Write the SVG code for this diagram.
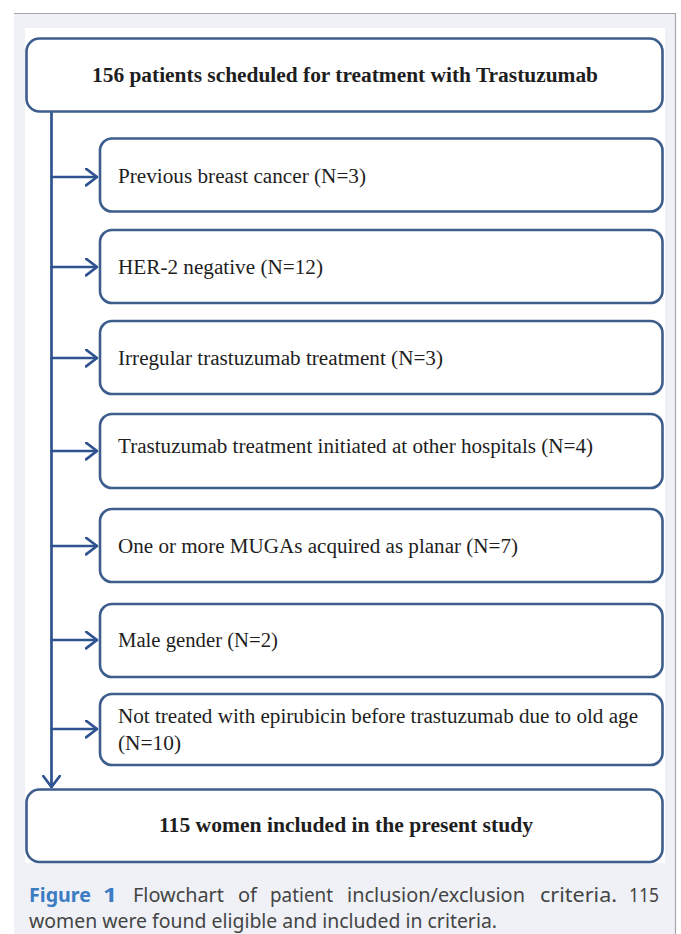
<svg xmlns="http://www.w3.org/2000/svg" width="681" height="934" viewBox="0 0 681 934">
<defs>
<style>
.box{fill:#ffffff;stroke:#3d5d8c;stroke-width:2.6}
.t{font-family:"Liberation Serif",serif;font-size:20px;fill:#1e1e1e}
.b{font-weight:bold}
.conn{fill:none;stroke:#2f5390;stroke-width:2.7;stroke-linecap:round;stroke-linejoin:round}
.cap{font-family:"Noto Sans","Liberation Sans",sans-serif;font-size:20px;fill:#444444}
.fig{fill:#3b7cc4;font-weight:bold}
</style>
<marker id="ah" viewBox="0 0 13 19" refX="12" refY="9.5" markerWidth="13" markerHeight="19" markerUnits="userSpaceOnUse" orient="auto">
<path d="M1,1.2 L12,9.5 L1,17.8" fill="none" stroke="#2f5390" stroke-width="2.7" stroke-linecap="round" stroke-linejoin="round"/>
</marker>
</defs>
<rect x="0" y="0" width="681" height="934" fill="#ffffff"/>
<rect x="14" y="13" width="661.5" height="925" fill="#eff1f6"/>
<path d="M14,13.5 H675.5 V934" fill="none" stroke="#a6a6a6" stroke-width="1.2"/>
<rect x="25" y="28" width="640" height="835" fill="#ffffff"/>

<g id="connectors">
<path class="conn" d="M51.5,111 V787" marker-end="url(#ah)"/>
<path class="conn" d="M51.5,177 H97" marker-end="url(#ah)"/>
<path class="conn" d="M51.5,267 H97" marker-end="url(#ah)"/>
<path class="conn" d="M51.5,358 H97" marker-end="url(#ah)"/>
<path class="conn" d="M51.5,451 H97" marker-end="url(#ah)"/>
<path class="conn" d="M51.5,546 H97" marker-end="url(#ah)"/>
<path class="conn" d="M51.5,640 H97" marker-end="url(#ah)"/>
<path class="conn" d="M51.5,729 H97" marker-end="url(#ah)"/>
</g>

<g id="start">
<rect class="box" x="26.5" y="38.5" width="636" height="73" rx="13"/>
<text class="t b" x="92" y="82" textLength="506" lengthAdjust="spacingAndGlyphs">156 patients scheduled for treatment with Trastuzumab</text>
</g>
<g id="excl1">
<rect class="box" x="100" y="138.5" width="562.5" height="73" rx="12"/>
<text class="t" x="118" y="183" textLength="248" lengthAdjust="spacingAndGlyphs">Previous breast cancer (N=3)</text>
</g>
<g id="excl2">
<rect class="box" x="100" y="230" width="562.5" height="73" rx="12"/>
<text class="t" x="118" y="274" textLength="205" lengthAdjust="spacingAndGlyphs">HER-2 negative (N=12)</text>
</g>
<g id="excl3">
<rect class="box" x="100" y="321" width="562.5" height="73" rx="12"/>
<text class="t" x="118" y="365" textLength="325" lengthAdjust="spacingAndGlyphs">Irregular trastuzumab treatment (N=3)</text>
</g>
<g id="excl4">
<rect class="box" x="100" y="414" width="562.5" height="74" rx="12"/>
<text class="t" x="118" y="453" textLength="475" lengthAdjust="spacingAndGlyphs">Trastuzumab treatment initiated at other hospitals (N=4)</text>
</g>
<g id="excl5">
<rect class="box" x="100" y="509" width="562.5" height="73" rx="12"/>
<text class="t" x="118" y="553" textLength="400" lengthAdjust="spacingAndGlyphs">One or more MUGAs acquired as planar (N=7)</text>
</g>
<g id="excl6">
<rect class="box" x="100" y="604" width="562.5" height="73" rx="12"/>
<text class="t" x="118" y="647" textLength="160" lengthAdjust="spacingAndGlyphs">Male gender (N=2)</text>
</g>
<g id="excl7">
<rect class="box" x="100" y="694" width="562.5" height="71" rx="12"/>
<text class="t" x="118" y="723" textLength="520" lengthAdjust="spacingAndGlyphs">Not treated with epirubicin before trastuzumab due to old age</text>
<text class="t" x="118" y="750" textLength="63" lengthAdjust="spacingAndGlyphs">(N=10)</text>
</g>
<g id="end">
<rect class="box" x="26.5" y="789.5" width="636" height="72.5" rx="13"/>
<text class="t b" x="159" y="832" textLength="374" lengthAdjust="spacingAndGlyphs">115 women included in the present study</text>
</g>

<g id="caption">
<text class="cap fig" x="29" y="902" textLength="62" lengthAdjust="spacingAndGlyphs">Figure</text>
<text class="cap fig" x="103" y="902" textLength="14" lengthAdjust="spacingAndGlyphs">1</text>
<text class="cap" x="133" y="902" textLength="91" lengthAdjust="spacingAndGlyphs">Flowchart</text>
<text class="cap" x="238" y="902" textLength="19" lengthAdjust="spacingAndGlyphs">of</text>
<text class="cap" x="270" y="902" textLength="63" lengthAdjust="spacingAndGlyphs">patient</text>
<text class="cap" x="347" y="902" textLength="178" lengthAdjust="spacingAndGlyphs">inclusion/exclusion</text>
<text class="cap" x="540" y="902" textLength="77" lengthAdjust="spacingAndGlyphs">criteria.</text>
<text class="cap" x="629" y="902" textLength="30" lengthAdjust="spacingAndGlyphs">115</text>
<text class="cap" x="29" y="928" textLength="468" lengthAdjust="spacingAndGlyphs">women were found eligible and included in criteria.</text>
</g>
</svg>
